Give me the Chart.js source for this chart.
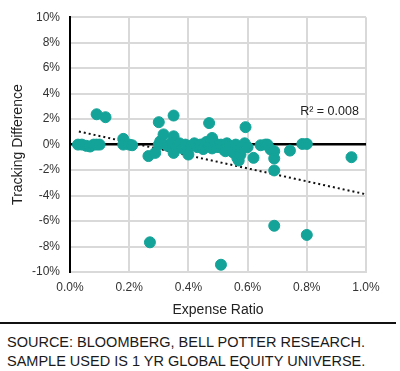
<!DOCTYPE html>
<html>
<head>
<meta charset="utf-8">
<script src="https://cdn.jsdelivr.net/npm/chart.js@4"></script>
<style>
  body { margin: 0; background: #fff; font-family: "Liberation Sans", Arial, sans-serif; }
  #wrap { position: absolute; left: 0; top: 0; width: 400px; height: 320px; }
  #rule { position: absolute; left: 0; top: 322px; width: 396px; height: 2px; background: #111; }
  #source { position: absolute; left: 7px; top: 333px; font-size: 14.5px; line-height: 19px; color: #1a1a1a; white-space: nowrap; }
</style>
</head>
<body>
<div id="wrap"><canvas id="chart"></canvas></div>
<div id="rule"></div>
<div id="source">SOURCE: BLOOMBERG, BELL POTTER RESEARCH.<br>SAMPLE USED IS 1 YR GLOBAL EQUITY UNIVERSE.</div>
<script>
// Expense ratio (%) und Tracking Difference (%) je Fonds
const expenseRatio = [0.027, 0.04, 0.055, 0.068, 0.08, 0.09, 0.10, 0.09, 0.12, 0.18, 0.18, 0.20, 0.21,
  0.265, 0.288, 0.30, 0.30, 0.305, 0.316, 0.35, 0.35, 0.35, 0.33, 0.34, 0.36, 0.37, 0.38, 0.39, 0.40,
  0.41, 0.42, 0.43, 0.44, 0.45, 0.46, 0.47, 0.48, 0.48, 0.49, 0.50, 0.51, 0.52, 0.525, 0.53, 0.54,
  0.55, 0.56, 0.565, 0.57, 0.576, 0.58, 0.59, 0.60, 0.62, 0.644, 0.66, 0.667, 0.678, 0.69, 0.69,
  0.69, 0.743, 0.785, 0.80, 0.951, 0.69, 0.80, 0.51, 0.27, 0.47, 0.593];
const trackingDiff = [0, 0, -0.1, -0.15, 0, 0, 0, 2.38, 2.15, 0.45, 0, 0, -0.05,
  -0.9, -0.65, 1.76, 0, 0.26, 0.8, 2.28, 0.65, -0.65, -0.1, 0.1, -0.2, 0.1, -0.3, 0.0, -0.78,
  -0.1, 0.1, -0.2, 0.0, -0.35, 0.2, -0.1, 0.52, -0.3, 0.1, -0.2, 0.0, -0.4, -0.52, 0.1, -0.15,
  -0.6, 0.0, -1.04, -1.25, -0.78, -0.3, 0.1, -0.2, -1.04, -0.05, 0, 0, -0.39, -0.52, -1.09,
  -2.03, -0.47, 0.05, 0.05, -0.99, -6.37, -7.09, -9.43, -7.67, 1.69, 1.37];

// Lineare Trendlinie (Start- und Endpunkt)
const trendX = [0.03, 1.0];
const trendY = [1.03, -3.9];
const rSquaredLabel = 'R\u00B2 = 0.008';

const xTicks = [0, 0.2, 0.4, 0.6, 0.8, 1.0];
const yTicks = [-10, -8, -6, -4, -2, 0, 2, 4, 6, 8, 10];

const teal = '#14a398';
const gridGray = '#d9d9d9';

const points = expenseRatio.map((x, i) => ({ x: x, y: trackingDiff[i] }));
const trend = trendX.map((x, i) => ({ x: x, y: trendY[i] }));

const r2Plugin = {
  id: 'r2',
  afterDatasetsDraw(chart) {
    const c = chart.ctx;
    const xs = chart.scales.x, ys = chart.scales.y;
    c.save();
    c.font = '12.5px "Liberation Sans", Arial, sans-serif';
    c.fillStyle = '#222';
    c.textAlign = 'right';
    c.textBaseline = 'middle';
    c.fillText(rSquaredLabel, xs.getPixelForValue(0.976), ys.getPixelForValue(2.6));
    c.restore();
  }
};

new Chart(document.getElementById('chart'), {
  type: 'scatter',
  data: {
    datasets: [
      {
        data: points,
        backgroundColor: teal,
        borderColor: teal,
        pointRadius: 5.5,
        pointHoverRadius: 5.5,
        order: 1
      },
      {
        type: 'line',
        data: trend,
        borderColor: '#111',
        borderWidth: 2,
        borderDash: [2, 3],
        pointRadius: 0,
        fill: false,
        order: 2
      }
    ]
  },
  options: {
    responsive: true,
    maintainAspectRatio: false,
    animation: false,
    layout: { padding: { top: 15, right: 34, left: 0, bottom: 0 } },
    plugins: { legend: { display: false }, tooltip: { enabled: false } },
    scales: {
      x: {
        type: 'linear',
        min: 0, max: 1,
        afterBuildTicks: s => { s.ticks = xTicks.map(v => ({ value: v })); },
        afterFit: s => { s.height = 48; },
        ticks: {
          callback: v => v.toFixed(1) + '%',
          color: '#333', padding: 8,
          font: { family: '"Liberation Sans", Arial, sans-serif', size: 12 },
          maxRotation: 0
        },
        grid: { color: gridGray, lineWidth: 2, drawTicks: false },
        border: { color: gridGray, width: 2 },
        title: {
          display: true, text: 'Expense Ratio', color: '#222', padding: { top: 4, bottom: 1 },
          font: { family: '"Liberation Sans", Arial, sans-serif', size: 14 }
        }
      },
      y: {
        min: -10, max: 10,
        afterBuildTicks: s => { s.ticks = yTicks.map(v => ({ value: v })); },
        afterFit: s => { s.width = 70; },
        ticks: {
          callback: v => v + '%',
          color: '#333', padding: 10,
          font: { family: '"Liberation Sans", Arial, sans-serif', size: 12 }
        },
        grid: {
          color: c => c.tick && c.tick.value === 0 ? '#000' : gridGray,
          lineWidth: c => c.tick && c.tick.value === 0 ? 2.5 : 2,
          drawTicks: false,
          z: 0
        },
        border: { color: '#000', width: 2 },
        title: {
          display: true, text: 'Tracking Difference', color: '#222', padding: { top: 10, bottom: 0 },
          font: { family: '"Liberation Sans", Arial, sans-serif', size: 14 }
        }
      }
    }
  },
  plugins: [r2Plugin]
});
</script>
</body>
</html>
